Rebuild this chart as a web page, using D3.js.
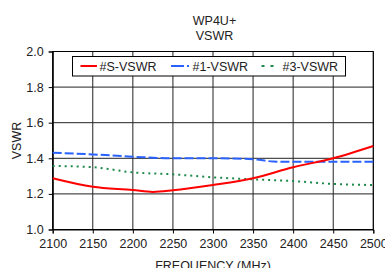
<!DOCTYPE html>
<html><head><meta charset="utf-8">
<script src="https://cdn.jsdelivr.net/npm/d3@7"></script>
<style>body{margin:0;background:#fff;}text{font-family:"Liberation Sans",Arial,sans-serif;fill:#222;}</style>
</head><body>
<svg id="c" width="385" height="268"></svg>
<script>
const freqs = [2100,2150,2200,2225,2250,2300,2350,2400,2450,2500];
const sVswr = [1.288,1.24,1.222,1.211,1.22,1.25,1.288,1.35,1.40,1.469];
const freqs1 = [2100,2150,2200,2250,2300,2350,2375,2400,2450,2500];
const v1Vswr = [1.431,1.422,1.409,1.40,1.40,1.395,1.382,1.38,1.38,1.38];
const freqs3 = [2100,2150,2200,2250,2300,2350,2400,2450,2500];
const v3Vswr = [1.357,1.35,1.321,1.31,1.293,1.282,1.272,1.256,1.25];
const xTicks = [2100,2150,2200,2250,2300,2350,2400,2450,2500];
const yTicks = [1.0,1.2,1.4,1.6,1.8,2.0];
const seriesNames = ["#S-VSWR","#1-VSWR","#3-VSWR"];
const titleLines = ["WP4U+","VSWR"];

const svg = d3.select("#c");
const x = d3.scaleLinear().domain([2100,2500]).range([52.7,373.3]);
const y = d3.scaleLinear().domain([1.0,2.0]).range([229.5,51.5]);

// gridlines
svg.append("g").selectAll("line").data(xTicks).join("line")
  .attr("x1",d=>x(d)).attr("x2",d=>x(d)).attr("y1",y(2.0)).attr("y2",y(1.0))
  .attr("stroke","#222").attr("stroke-width",1);
svg.append("g").selectAll("line").data(yTicks).join("line")
  .attr("y1",d=>y(d)).attr("y2",d=>y(d)).attr("x1",x(2100)).attr("x2",x(2500))
  .attr("stroke","#222").attr("stroke-width",1);

// axes
const xa = svg.append("g").attr("transform",`translate(0,${y(1.0)})`)
  .call(d3.axisBottom(x).tickValues(xTicks).tickFormat(d3.format("d")).tickSizeOuter(0).tickSize(4).tickPadding(6));
const ya = svg.append("g").attr("transform",`translate(${x(2100)},0)`)
  .call(d3.axisLeft(y).tickValues(yTicks).tickFormat(d3.format(".1f")).tickSizeOuter(0).tickSize(4).tickPadding(5));
[xa,ya].forEach(a=>{
  a.selectAll("path").attr("stroke","#000");
  a.selectAll("line").attr("stroke","#000");
  a.selectAll("text").style("font-size","12.5px").attr("fill","#222");
});
// frame
svg.append("rect").attr("x",x(2100)).attr("y",y(2.0)).attr("width",x(2500)-x(2100)).attr("height",y(1.0)-y(2.0))
  .attr("fill","none").attr("stroke","#000");

const line = d3.line().x(d=>x(d[0])).y(d=>y(d[1])).curve(d3.curveMonotoneX);
svg.append("path").datum(freqs3.map((f,i)=>[f,v3Vswr[i]])).attr("d",line)
  .attr("fill","none").attr("stroke","#1e8a4a").attr("stroke-width",2).attr("stroke-dasharray","2,4");
svg.append("path").datum(freqs1.map((f,i)=>[f,v1Vswr[i]])).attr("d",line)
  .attr("fill","none").attr("stroke","#2a62ff").attr("stroke-width",2).attr("stroke-dasharray","9,3");
svg.append("path").datum(freqs.map((f,i)=>[f,sVswr[i]])).attr("d",line)
  .attr("fill","none").attr("stroke","#ff0000").attr("stroke-width",2);

// legend
const lg = svg.append("g");
lg.append("rect").attr("x",72.5).attr("y",56.5).attr("width",273).attr("height",19.5)
  .attr("fill","#fff").attr("stroke","#000");
const legItems = [
  {name:seriesNames[0],color:"#ff0000",dash:null,x0:80.5,x1:97,tx:99.5},
  {name:seriesNames[1],color:"#2a62ff",dash:"13,3,2,3",x0:171,x1:191,tx:192.5},
  {name:seriesNames[2],color:"#1e8a4a",dash:"3,6",x0:261.5,x1:278,tx:282.5}
];
legItems.forEach(it=>{
  lg.append("line").attr("x1",it.x0).attr("x2",it.x1).attr("y1",66).attr("y2",66)
    .attr("stroke",it.color).attr("stroke-width",2).attr("stroke-dasharray",it.dash);
  lg.append("text").attr("x",it.tx).attr("y",70.5).style("font-size","12.5px").text(it.name);
});

// titles
svg.append("text").attr("x",214.5).attr("y",24.5).attr("text-anchor","middle").style("font-size","12.5px").text(titleLines[0]);
svg.append("text").attr("x",214.5).attr("y",39.5).attr("text-anchor","middle").style("font-size","12.5px").text(titleLines[1]);
svg.append("text").attr("transform","translate(21,140.5) rotate(-90)").attr("text-anchor","middle").style("font-size","12.5px").text("VSWR");
svg.append("text").attr("x",213).attr("y",269.5).attr("text-anchor","middle").style("font-size","12.5px").text("FREQUENCY (MHz)");
</script>
</body></html>
